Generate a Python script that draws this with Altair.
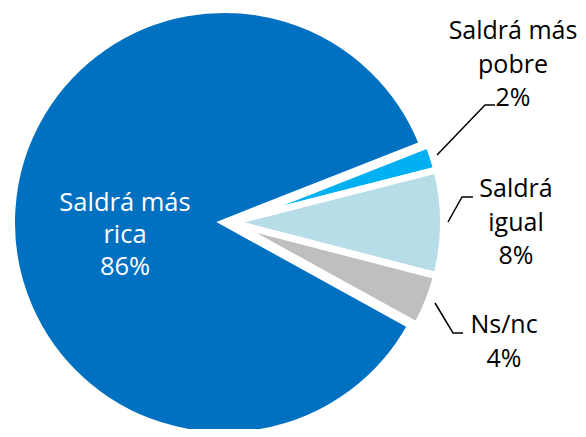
import math
import altair as alt
import pandas as pd

# --- data ---
categorias = ["Saldrá más pobre", "Saldrá igual", "Ns/nc", "Saldrá más rica"]
valores = [2, 8, 4, 86]
colores = ["#00B0F0", "#B7DEE8", "#BFBFBF", "#0070C0"]
etiquetas = ["Saldrá más\npobre\n2%", "Saldrá\nigual\n8%", "Ns/nc\n4%", "Saldrá más\nrica\n86%"]

# annotation positions (view pixels)
etq_x = [505, 508, 496, 117]
etq_y = [31, 189, 325, 203]
lineas = {
    "Saldrá más pobre": [(429, 147), (477, 97), (487, 97)],
    "Saldrá igual": [(440, 214), (454, 189), (465, 189)],
    "Ns/nc": [(427, 295), (445, 325), (455, 325)],
}

W, H = 570, 421
CX, CY, R = 216.5, 214.5, 213
EXPLODE = 6
T0 = math.radians(68.5)
FONT = "Open Sans"

df = pd.DataFrame({
    "categoria": categorias,
    "valor": valores,
    "orden": list(range(len(categorias))),
})

theta = alt.Theta("valor:Q", stack=True, scale=alt.Scale(range=[T0, T0 + 2 * math.pi]))
color = alt.Color("categoria:N", scale=alt.Scale(domain=categorias, range=colores), legend=None)
order = alt.Order("orden:Q")
is_big = alt.datum.categoria == "Saldrá más rica"

big = alt.Chart(df).mark_arc(radius=R, stroke="white", strokeWidth=7).encode(
    theta=theta, color=color, order=order,
    x=alt.value(CX), y=alt.value(CY),
    opacity=alt.condition(is_big, alt.value(1), alt.value(0)),
)
small = alt.Chart(df).mark_arc(radius=R, stroke="white", strokeWidth=7).encode(
    theta=theta, color=color, order=order,
    x=alt.value(CX + EXPLODE), y=alt.value(CY),
    opacity=alt.condition(is_big, alt.value(0), alt.value(1)),
)

xs = alt.Scale(domain=[0, W], range=[0, W])
ys = alt.Scale(domain=[0, H], range=[0, H])

rows = []
for k, pts in lineas.items():
    for i, (px, py) in enumerate(pts):
        rows.append({"id": k, "i": i, "px": px, "py": py})
df_l = pd.DataFrame(rows)

leaders = alt.Chart(df_l).mark_line(color="black", strokeWidth=1.5).encode(
    x=alt.X("px:Q", scale=xs, axis=None),
    y=alt.Y("py:Q", scale=ys, axis=None),
    detail="id:N",
    order="i:Q",
)

df_t = pd.DataFrame({"categoria": categorias, "texto": etiquetas, "tx": etq_x, "ty": etq_y})

txt_out = alt.Chart(df_t).transform_filter(~is_big).mark_text(
    font=FONT, fontSize=25, lineBreak="\n", lineHeight=33.5, align="center",
    baseline="alphabetic", color="black",
).encode(
    x=alt.X("tx:Q", scale=xs, axis=None),
    y=alt.Y("ty:Q", scale=ys, axis=None),
    text="texto:N",
)
txt_in = alt.Chart(df_t).transform_filter(is_big).mark_text(
    font=FONT, fontSize=25.5, lineBreak="\n", lineHeight=32, align="center",
    baseline="alphabetic", color="white",
).encode(
    x=alt.X("tx:Q", scale=xs, axis=None),
    y=alt.Y("ty:Q", scale=ys, axis=None),
    text="texto:N",
)

chart = alt.layer(big, small, leaders, txt_out, txt_in).properties(
    width=W, height=H, autosize="none", padding=0
).configure_view(stroke=None)

chart.save("out.html", embed_options={"renderer": "svg", "actions": False})
